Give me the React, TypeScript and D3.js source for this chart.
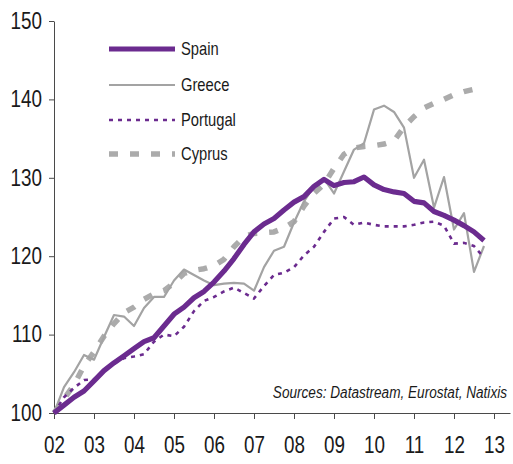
import React, { useEffect, useRef } from "react";
import * as d3 from "d3";

// quarterly index, 2002 Q1 = 100
const yearLabels = ["02", "03", "04", "05", "06", "07", "08", "09", "10", "11", "12", "13"];
const yTicks = [100, 110, 120, 130, 140, 150];

const spain = [
  100, 101, 102, 102.8, 104.1, 105.4, 106.4, 107.3, 108.2, 109.1, 109.6, 111.1,
  112.6, 113.5, 114.7, 115.5, 116.7, 118.1, 119.7, 121.5, 123.1, 124.1, 124.8, 125.9,
  126.9, 127.6, 128.9, 129.8, 129.0, 129.4, 129.5, 130.1, 129.1, 128.5, 128.2, 128.0,
  127.0, 126.8, 125.7, 125.2, 124.6, 123.9, 123.1, 122.0,
];
const greece = [
  100, 103.3, 105.2, 107.4, 106.8, 109.7, 112.5, 112.3, 111.1, 113.4, 114.8, 114.8,
  116.9, 118.3, 117.6, 116.9, 116.3, 116.5, 116.6, 116.5, 115.6, 118.6, 120.7, 121.2,
  124.3, 127.0, 128.9, 129.9, 128.0, 130.8, 133.6, 134.4, 138.7, 139.2, 138.4, 136.4,
  130.0, 132.3, 126.2, 130.1, 123.4, 125.5, 118.0, 121.3,
];
const portugal = [
  100, 102.0, 103.2, 104.2, 104.3, 105.3, 106.3, 107.0, 107.2, 107.5, 109.1, 110.0,
  109.8, 111.0, 113.0, 114.3, 114.8, 115.5, 116.0, 115.3, 114.6, 116.2, 117.6, 117.9,
  118.6, 120.1, 121.2, 123.1, 124.8, 125.0, 124.0, 124.3, 124.0, 123.8, 123.8, 123.8,
  124.0, 124.3, 124.4, 123.9, 121.6, 121.7, 121.3, 119.8,
];
const cyprus = [
  100, 101.8, 103.6, 106.0, 107.8, 109.8, 111.4, 112.8, 113.5, 114.5, 115.2, 115.6,
  116.6, 117.8, 118.2, 118.4, 118.8, 119.6, 121.2, 122.5, 122.9, 123.0, 123.1, 123.6,
  124.4, 126.4, 128.0, 129.2, 131.2, 133.0, 133.8, 134.0, 134.1, 134.3, 134.7, 136.5,
  137.8, 138.9, 139.5, 140.0, 140.6, 141.0, 141.3, 141.6,
];

const PURPLE = "#6b2b8f";
const GREY = "#a3a3a3";
const FONT = "'Liberation Sans', Arial, sans-serif";
const NARROW = 0.82; // Arial Narrow look: squeeze Liberation Sans horizontally

const series = [
  { name: "Cyprus", values: cyprus, color: "#ababab", width: 5.5, dash: "9,12" },
  { name: "Greece", values: greece, color: GREY, width: 2.2, dash: null },
  { name: "Portugal", values: portugal, color: PURPLE, width: 2.6, dash: "4,5" },
  { name: "Spain", values: spain, color: PURPLE, width: 5.2, dash: null },
];
const legendOrder = ["Spain", "Greece", "Portugal", "Cyprus"];

const width = 513;
const height = 464;

// squeeze a text selection, keeping its anchor x where it was
function narrow(sel: d3.Selection<any, any, any, any>) {
  sel.each(function () {
    const t = d3.select(this);
    const x0 = +(t.attr("x") || 0);
    t.attr("x", x0 / NARROW).attr("transform", `scale(${NARROW},1)`);
  });
}

export default function App() {
  const ref = useRef<SVGSVGElement>(null);

  useEffect(() => {
    const svg = d3.select(ref.current);
    svg.selectAll("*").remove();

    const x = d3.scaleLinear().domain([2002, 2013.4]).range([54, 510]);
    const y = d3.scaleLinear().domain([100, 150]).range([413, 21]);

    // quarter positions (2002 Q1 ... 2012 Q4)
    const quarterX = (i: number) => x(2002 + i / 4);

    const xAxis = svg.append("g")
      .attr("transform", `translate(0,${y(100)})`)
      .call(
        d3.axisBottom(x)
          .tickValues(d3.range(2002, 2014))
          .tickFormat((d, i) => yearLabels[i])
          .tickSize(6)
          .tickSizeOuter(0)
          .tickPadding(18)
      );

    const yAxis = svg.append("g")
      .attr("transform", `translate(${x(2002)},0)`)
      .call(
        d3.axisLeft(y)
          .tickValues(yTicks)
          .tickSize(5)
          .tickSizeOuter(0)
          .tickPadding(7)
      );

    [xAxis, yAxis].forEach(g => {
      g.selectAll("path, line").attr("stroke", "#4a4a4a");
      g.selectAll("text")
        .attr("fill", "#1a1a1a")
        .attr("font-family", FONT)
        .attr("font-size", 23)
        .call(narrow);
    });

    const line = d3.line<number>()
      .x((d, i) => quarterX(i))
      .y(d => y(d));

    series.forEach(s => {
      svg.append("path")
        .datum(s.values)
        .attr("fill", "none")
        .attr("stroke", s.color)
        .attr("stroke-width", s.width)
        .attr("stroke-dasharray", s.dash)
        .attr("stroke-linejoin", "round")
        .attr("d", line);
    });

    // legend
    const legend = svg.append("g");
    const rowY = [49, 85, 120, 154];
    legendOrder.forEach((name, i) => {
      const s = series.find(d => d.name === name)!;
      legend.append("line")
        .attr("x1", 109).attr("x2", 175)
        .attr("y1", rowY[i]).attr("y2", rowY[i])
        .attr("stroke", s.color)
        .attr("stroke-width", s.width)
        .attr("stroke-dasharray", s.dash);
      legend.append("text")
        .attr("x", 181)
        .attr("y", rowY[i])
        .attr("dy", "0.35em")
        .attr("font-family", FONT)
        .attr("font-size", 18)
        .attr("fill", "#1a1a1a")
        .text(name)
        .call(narrow);
    });

    svg.append("text")
      .attr("x", 507)
      .attr("y", 398)
      .attr("text-anchor", "end")
      .attr("font-family", FONT)
      .attr("font-style", "italic")
      .attr("font-size", 16.6)
      .attr("fill", "#1a1a1a")
      .text("Sources: Datastream, Eurostat, Natixis")
      .call(narrow);
  }, []);

  return (
    <div>
      <svg
        ref={ref}
        width={width}
        height={height}
        style={{ position: "absolute", left: 0, top: 0, background: "#fff" }}
      />
    </div>
  );
}
